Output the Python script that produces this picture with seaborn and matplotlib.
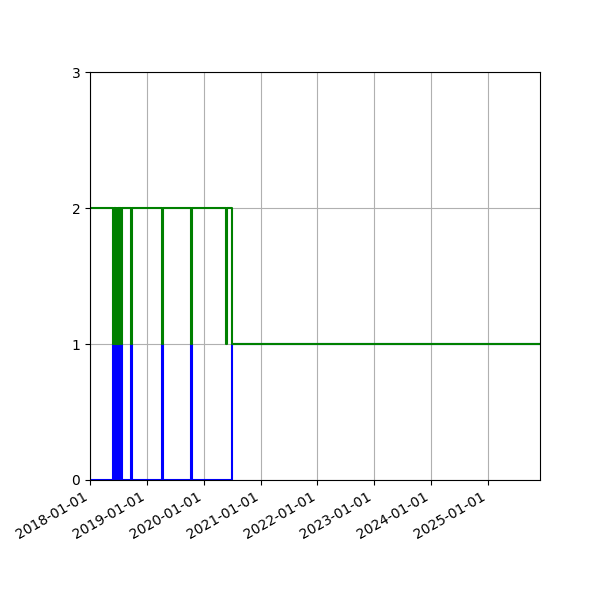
import matplotlib
matplotlib.use("Agg")
import matplotlib.pyplot as plt
import matplotlib.dates as mdates
import pandas as pd
import seaborn as sns

blue_dates = ["2018-01-01", "2018-05-31", "2018-06-04", "2018-06-08", "2018-06-12",
              "2018-06-17", "2018-06-21", "2018-06-26", "2018-06-30", "2018-07-05",
              "2018-07-09", "2018-07-20", "2018-07-25", "2018-09-23", "2018-09-29",
              "2019-04-08", "2019-04-14", "2019-10-14", "2019-10-20", "2020-07-01",
              "2025-12-01"]
blue_values = [0, 1, 0, 1, 0, 1, 0, 1, 0, 1, 0, 1, 0, 1, 0, 1, 0, 1, 0, 1, 1]

green_dates = ["2018-01-01", "2018-05-31", "2018-06-04", "2018-06-08", "2018-06-12",
               "2018-06-17", "2018-06-21", "2018-06-26", "2018-06-30", "2018-07-05",
               "2018-07-09", "2018-07-20", "2018-07-25", "2018-09-23", "2018-09-29",
               "2019-04-08", "2019-04-14", "2019-10-14", "2019-10-20", "2020-05-25",
               "2020-05-27", "2020-07-01", "2025-12-01"]
green_values = [2, 1, 2, 1, 2, 1, 2, 1, 2, 1, 2, 1, 2, 1, 2, 1, 2, 1, 2, 1, 2, 1, 1]

blue_df = pd.DataFrame({"date": pd.to_datetime(blue_dates), "value": blue_values})
green_df = pd.DataFrame({"date": pd.to_datetime(green_dates), "value": green_values})

fig, ax = plt.subplots(figsize=(6, 6), dpi=100)
sns.lineplot(data=blue_df, x="date", y="value", color="blue", drawstyle="steps-post",
             estimator=None, linewidth=1.5, ax=ax)
sns.lineplot(data=green_df, x="date", y="value", color="green", drawstyle="steps-post",
             estimator=None, linewidth=1.5, ax=ax)

ax.set_xlim(pd.Timestamp("2018-01-01"), pd.Timestamp("2025-12-01"))
ax.set_ylim(0, 3)
ax.set_yticks([0, 1, 2, 3])
ax.xaxis.set_major_locator(mdates.YearLocator())
ax.xaxis.set_major_formatter(mdates.DateFormatter("%Y-%m-%d"))
ax.set_xlabel("")
ax.set_ylabel("")
ax.grid(True)
fig.autofmt_xdate()
fig.subplots_adjust(left=0.15, right=0.9, bottom=0.2, top=0.88)
fig.savefig("out.png", dpi=100)
